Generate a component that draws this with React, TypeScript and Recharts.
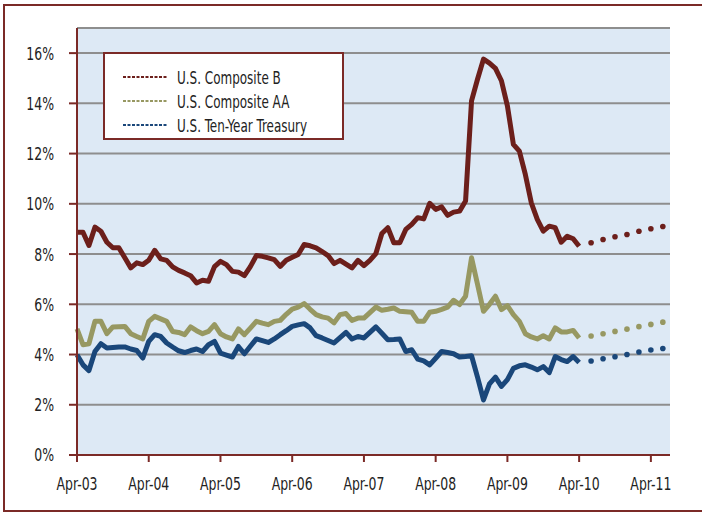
import { LineChart, Line, XAxis, YAxis, CartesianGrid } from "recharts";

// monthly yields, Apr-03 .. Apr-10 (percent)
const compositeB = [
  8.87, 8.87, 8.34, 9.07, 8.91, 8.47, 8.25, 8.25, 7.85, 7.45, 7.65, 7.58,
  7.75, 8.15, 7.81, 7.75, 7.49, 7.35, 7.25, 7.14, 6.85, 6.96, 6.92, 7.5,
  7.71, 7.58, 7.31, 7.28, 7.14, 7.5, 7.94, 7.91, 7.85, 7.78, 7.51, 7.75,
  7.87, 7.98, 8.38, 8.33, 8.25, 8.1, 7.94, 7.62, 7.75, 7.6, 7.45, 7.75,
  7.54, 7.75, 8.02, 8.82, 9.05, 8.45, 8.45, 8.98, 9.18, 9.45, 9.4, 10.02,
  9.78, 9.88, 9.54, 9.67, 9.71, 10.11, 14.1, 14.96, 15.76, 15.6, 15.39, 14.9,
  13.9, 12.37, 12.1, 11.17, 10.04, 9.38, 8.91, 9.11, 9.05, 8.47, 8.71, 8.61,
  8.31,
];

const compositeAA = [
  5.02, 4.39, 4.43, 5.32, 5.32, 4.83, 5.1, 5.11, 5.12, 4.83, 4.72, 4.62,
  5.32, 5.52, 5.42, 5.32, 4.92, 4.88, 4.79, 5.1, 4.95, 4.83, 4.92, 5.19,
  4.83, 4.7, 4.62, 5.02, 4.79, 5.05, 5.32, 5.25, 5.19, 5.32, 5.36, 5.6,
  5.81, 5.89, 6.03, 5.8, 5.59, 5.5, 5.45, 5.26, 5.59, 5.63, 5.36, 5.45,
  5.45, 5.67, 5.89, 5.76, 5.8, 5.85, 5.72, 5.7, 5.68, 5.32, 5.32, 5.68,
  5.72, 5.8, 5.89, 6.16, 5.99, 6.32, 7.85, 6.8, 5.72, 6.0, 6.32, 5.79,
  5.95, 5.59, 5.32, 4.83, 4.7, 4.62, 4.75, 4.62, 5.06, 4.9, 4.9, 4.96,
  4.66,
];

const treasury = [
  3.99, 3.59, 3.36, 4.12, 4.43, 4.26, 4.28, 4.3, 4.3, 4.22, 4.16, 3.86,
  4.52, 4.79, 4.72, 4.46, 4.3, 4.15, 4.08, 4.16, 4.22, 4.12, 4.39, 4.52,
  4.06, 3.98, 3.9, 4.32, 4.03, 4.33, 4.62, 4.55, 4.48, 4.62, 4.79, 4.95,
  5.12, 5.18, 5.23, 5.06, 4.75, 4.66, 4.56, 4.46, 4.67, 4.88, 4.62, 4.72,
  4.66, 4.88, 5.1, 4.85, 4.59, 4.6, 4.62, 4.12, 4.19, 3.82, 3.75, 3.59,
  3.85, 4.12, 4.08, 4.03, 3.9, 3.92, 3.95, 3.1, 2.19, 2.83, 3.1, 2.73,
  3.0, 3.45, 3.55, 3.59, 3.5, 3.39, 3.52, 3.28, 3.92, 3.8, 3.72, 3.92,
  3.68,
];

// projections, every other month from Jun-10
const projMonths = [86, 88, 90, 92, 94, 96, 98];
const projB = [8.45, 8.58, 8.69, 8.78, 8.91, 9.01, 9.1];
const projAA = [4.74, 4.83, 4.92, 5.01, 5.11, 5.2, 5.29];
const projTreasury = [3.74, 3.83, 3.91, 4.0, 4.1, 4.18, 4.24];

const tickMonths = [0, 12, 24, 36, 48, 60, 72, 84, 96];
const tickLabels = [
  "Apr-03", "Apr-04", "Apr-05", "Apr-06", "Apr-07",
  "Apr-08", "Apr-09", "Apr-10", "Apr-11",
];
const yTicks = [0, 2, 4, 6, 8, 10, 12, 14, 16];

const COLORS = {
  b: "#6c1f1b",
  aa: "#979862",
  tsy: "#1a477a",
  frame: "#7b2a27",
};

const FONT = "'DejaVu Sans Condensed', 'DejaVu Sans', sans-serif";
const SQUEEZE = 0.77;

const rows = Array.from({ length: 99 }, (_, m) => {
  const p = projMonths.indexOf(m);
  return {
    m,
    b: compositeB[m] ?? null,
    aa: compositeAA[m] ?? null,
    tsy: treasury[m] ?? null,
    bP: p >= 0 ? projB[p] : null,
    aaP: p >= 0 ? projAA[p] : null,
    tsyP: p >= 0 ? projTreasury[p] : null,
  };
});

const legendItems = [
  { label: "U.S. Composite B", color: COLORS.b },
  { label: "U.S. Composite AA", color: COLORS.aa },
  { label: "U.S. Ten-Year Treasury", color: COLORS.tsy },
];

function YTick({ x, y, payload }: any) {
  return (
    <text
      transform={`translate(${x},${y}) scale(${SQUEEZE},1)`}
      textAnchor="end"
      dy="0.36em"
      fontSize={18}
      fill="#222"
      fontFamily={FONT}
    >
      {`${payload.value}%`}
    </text>
  );
}

function XTick({ x, y, payload }: any) {
  return (
    <text
      transform={`translate(${x},${y}) scale(${SQUEEZE},1)`}
      textAnchor="middle"
      dy="0.71em"
      fontSize={18}
      fill="#222"
      fontFamily={FONT}
    >
      {tickLabels[tickMonths.indexOf(payload.value)] ?? ""}
    </text>
  );
}

export default function App() {
  return (
    <div
      style={{
        position: "absolute",
        left: 0,
        top: 0,
        width: 702,
        height: 513,
        background: "#fff",
        overflow: "hidden",
      }}
    >
      <div
        style={{
          position: "absolute",
          left: 3,
          top: 4,
          width: 740,
          height: 508,
          boxSizing: "border-box",
          border: `2px solid ${COLORS.frame}`,
        }}
      />
      <div style={{ position: "absolute", left: 0, top: 0 }}>
        <LineChart
          width={702}
          height={513}
          data={rows}
          margin={{ top: 28, right: 32, left: 0, bottom: 0 }}
        >
          <CartesianGrid
            vertical={false}
            fill="#dde9f5"
            stroke="#8e8e8e"
            strokeWidth={2}
            fillOpacity={1}
          />
          <XAxis
            type="number"
            dataKey="m"
            domain={[0, 99.2]}
            ticks={tickMonths}
            height={58}
            tick={<XTick />}
            tickSize={7}
            tickMargin={15}
            axisLine={{ stroke: COLORS.frame, strokeWidth: 2 }}
            tickLine={{ stroke: COLORS.frame, strokeWidth: 2 }}
            interval={0}
          />
          <YAxis
            type="number"
            domain={[0, 17]}
            ticks={yTicks}
            width={77}
            tick={<YTick />}
            tickSize={8}
            tickMargin={15}
            axisLine={{ stroke: COLORS.frame, strokeWidth: 2 }}
            tickLine={{ stroke: COLORS.frame, strokeWidth: 2 }}
            interval={0}
          />
          <Line dataKey="b" stroke={COLORS.b} strokeWidth={5} dot={false} strokeLinejoin="round" isAnimationActive={false} />
          <Line dataKey="aa" stroke={COLORS.aa} strokeWidth={5} dot={false} strokeLinejoin="round" isAnimationActive={false} />
          <Line dataKey="tsy" stroke={COLORS.tsy} strokeWidth={5} dot={false} strokeLinejoin="round" isAnimationActive={false} />
          <Line dataKey="bP" stroke="none" dot={{ r: 2.8, fill: COLORS.b, stroke: "none" }} isAnimationActive={false} />
          <Line dataKey="aaP" stroke="none" dot={{ r: 2.8, fill: COLORS.aa, stroke: "none" }} isAnimationActive={false} />
          <Line dataKey="tsyP" stroke="none" dot={{ r: 2.8, fill: COLORS.tsy, stroke: "none" }} isAnimationActive={false} />
        </LineChart>
      </div>
      <div
        style={{
          position: "absolute",
          left: 103,
          top: 52,
          width: 241,
          height: 88,
          boxSizing: "border-box",
          border: `2px solid ${COLORS.frame}`,
          background: "#fff",
          fontFamily: FONT,
          fontSize: 18,
          color: "#222",
        }}
      >
        {legendItems.map((item, i) => (
          <div
            key={item.label}
            style={{
              position: "absolute",
              left: 18,
              top: 11 + i * 24,
              height: 24,
              display: "flex",
              alignItems: "center",
              whiteSpace: "nowrap",
            }}
          >
            <svg width={44} height={4} style={{ marginRight: 10 }}>
              <line x1={0} y1={2} x2={44} y2={2} stroke={item.color} strokeWidth={2} strokeDasharray="3 1.5" />
            </svg>
            <span
              style={{
                display: "inline-block",
                transform: "scaleX(0.74)",
                transformOrigin: "left center",
              }}
            >
              {item.label}
            </span>
          </div>
        ))}
      </div>
    </div>
  );
}
